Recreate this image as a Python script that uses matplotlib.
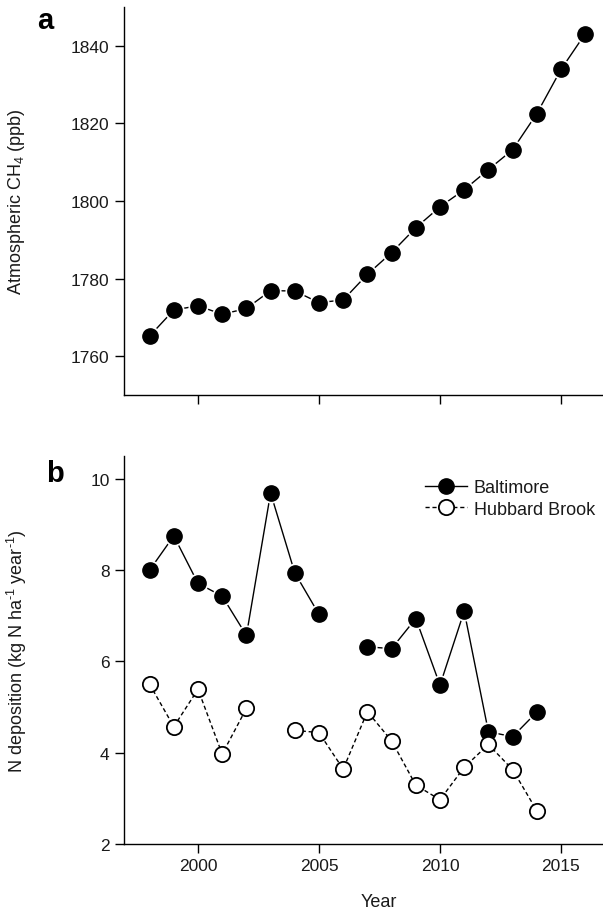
import matplotlib
matplotlib.use("Agg")
import matplotlib.pyplot as plt
import numpy as np

plt.rcParams['font.family'] = ['Liberation Sans', 'DejaVu Sans']
plt.rcParams['mathtext.fontset'] = 'custom'
plt.rcParams['mathtext.rm'] = 'Liberation Sans'
plt.rcParams['mathtext.it'] = 'Liberation Sans:italic'
plt.rcParams['mathtext.bf'] = 'Liberation Sans:bold'
plt.rcParams['mathtext.default'] = 'regular'

years_ch4 = list(range(1998, 2017))
ch4 = [1765.2, 1771.9, 1773.0, 1770.8, 1772.3, 1776.9, 1776.8, 1773.8, 1774.5,
       1781.1, 1786.7, 1793.1, 1798.5, 1802.9, 1808.1, 1813.2, 1822.5, 1833.9, 1843.1]

years_dep = list(range(1998, 2015))
baltimore = [8.0, 8.75, 7.71, 7.43, 6.57, 9.69, 7.94, 7.03, np.nan,
             6.32, 6.28, 6.94, 5.48, 7.10, 4.46, 4.35, 4.89]
hubbard = [5.50, 4.57, 5.39, 3.97, 4.97, np.nan, 4.49, 4.44, 3.64,
           4.90, 4.26, 3.29, 2.97, 3.68, 4.18, 3.63, 2.73]

xticks = [2000, 2005, 2010, 2015]

W, H = 603, 920
fig = plt.figure(figsize=(W/100, H/100), dpi=100)

def box(l, t, r, b):
    return [l/W, 1 - b/H, (r - l)/W, (b - t)/H]

L, R = 124, 634
ax1 = fig.add_axes(box(L, 8, R, 396))
ax2 = fig.add_axes(box(L, 457, R, 845))
axw = R - L

px_per_year = (561 - 198) / 15.0
xlim = (2000 - (198 - L) / px_per_year, 2000 + (R - 198) / px_per_year)
fs = 12.5
lfs = 13
txt = '#1a1a1a'

for ax in (ax1, ax2):
    ax.spines['top'].set_visible(False)
    ax.spines['right'].set_visible(False)
    ax.spines['left'].set_linewidth(1.0)
    ax.spines['bottom'].set_linewidth(1.0)
    ax.set_xlim(*xlim)
    ax.set_xticks(xticks)
    ax.tick_params(direction='out', length=6.3, width=1.0, labelsize=fs, pad=4,
                   labelcolor=txt)

dash = (0, (3, 2))

# Panel a
ax1.plot(years_ch4, ch4, color='black', lw=1.0, zorder=2)
ax1.plot(years_ch4, ch4, linestyle='none', marker='o', markersize=13.5,
         markerfacecolor='white', markeredgecolor='white', zorder=3)
ax1.plot(years_ch4, ch4, linestyle='none', marker='o', markersize=11,
         markerfacecolor='black', markeredgecolor='black', zorder=4)
ax1.set_ylim(1750, 1850)
ax1.set_yticks([1760, 1780, 1800, 1820, 1840])
ax1.set_xticklabels([])
ax1.set_ylabel('Atmospheric CH$_4$ (ppb)', fontsize=lfs, color=txt)
ax1.yaxis.set_label_coords((27 - L) / axw, 0.5)

# Panel b
ax2.plot(years_dep, baltimore, color='black', lw=1.0, zorder=2)
ax2.plot(years_dep, baltimore, linestyle='none', marker='o', markersize=13.5,
         markerfacecolor='white', markeredgecolor='white', zorder=3)
ax2.plot(years_dep, baltimore, linestyle='none', marker='o', markersize=11,
         markerfacecolor='black', markeredgecolor='black', zorder=4)
ax2.plot(years_dep, hubbard, color='black', lw=1.0, linestyle=dash, zorder=2)
ax2.plot(years_dep, hubbard, linestyle='none', marker='o', markersize=11,
         markerfacecolor='white', markeredgecolor='black', markeredgewidth=1.3, zorder=4)

h1, = ax2.plot([], [], color='black', lw=1.0, marker='o', markersize=11,
               markerfacecolor='black', markeredgecolor='black')
h2, = ax2.plot([], [], color='black', lw=1.0, linestyle=dash, marker='o', markersize=11,
               markerfacecolor='white', markeredgecolor='black', markeredgewidth=1.3)
leg = fig.legend([h1, h2], ['Baltimore', 'Hubbard Brook'], loc='upper left',
                 bbox_to_anchor=(425 / W, 1 - 480 / H), frameon=False, fontsize=lfs,
                 handlelength=2.35, handletextpad=0.35, labelspacing=0.25,
                 borderaxespad=0, borderpad=0)
for t in leg.get_texts():
    t.set_color(txt)

ax2.set_ylim(2, 10.5)
ax2.set_yticks([2, 4, 6, 8, 10])
ax2.set_xlabel('Year', fontsize=lfs, color=txt)
ax2.xaxis.set_label_coords((379 - L) / axw, -(894 - 845) / (845 - 457))
ax2.set_ylabel('N deposition (kg N ha$^{\\text{-}1}$ year$^{\\text{-}1}$)', fontsize=lfs, color=txt)
ax2.yaxis.set_label_coords((29 - L) / axw, 0.5)

fig.text(45/W, 1 - 21/H, 'a', fontsize=21, fontweight='bold', ha='center', va='center')
fig.text(55/W, 1 - 474/H, 'b', fontsize=21, fontweight='bold', ha='center', va='center')

fig.savefig('out.png', dpi=100)
